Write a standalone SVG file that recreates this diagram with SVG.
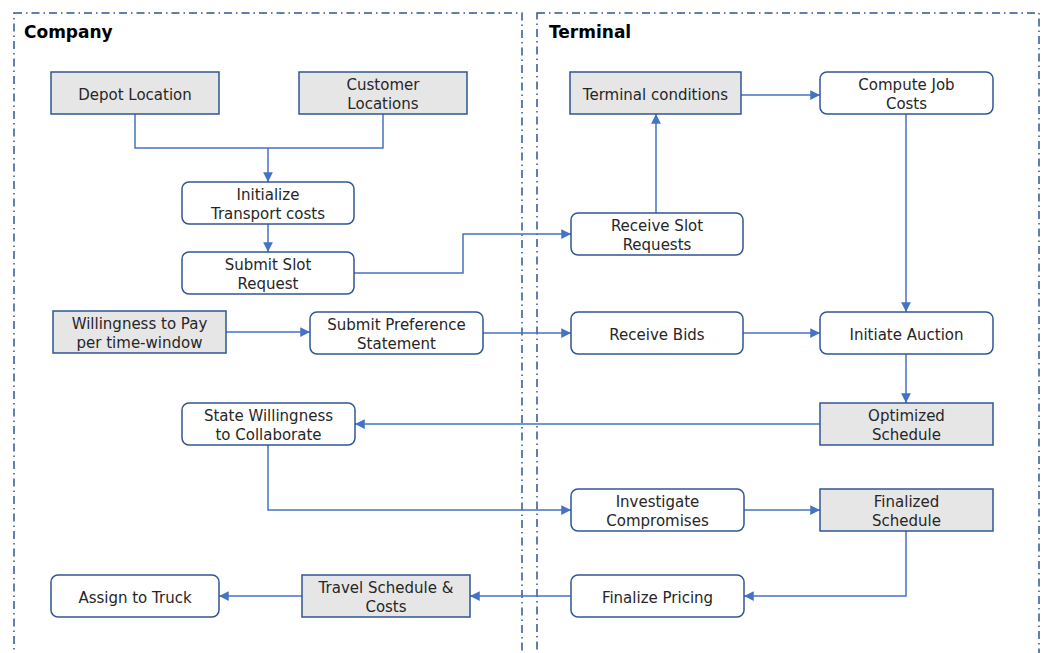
<svg xmlns="http://www.w3.org/2000/svg" width="1051" height="653" viewBox="0 0 1051 653">
<style>
.lane{fill:none;stroke:#2f5597;stroke-width:1.5;stroke-dasharray:8 4 1.5 4}
.title{font-family:"DejaVu Sans",sans-serif;font-weight:bold;font-size:17px;fill:#000}
.data{fill:#e7e6e6;stroke:#2f5597;stroke-width:1.5}
.proc{fill:#fff;stroke:#2f5597;stroke-width:1.5}
.t{font-family:"DejaVu Sans",sans-serif;font-size:15px;fill:#262626;text-anchor:middle}
.c{fill:none;stroke:#4472c4;stroke-width:1.5}
.ca{fill:none;stroke:#4472c4;stroke-width:1.5;marker-end:url(#ah)}
</style>
<defs>
<marker id="ah" viewBox="0 0 10 10" refX="10" refY="5" markerWidth="6.5" markerHeight="6.5" markerUnits="strokeWidth" orient="auto">
<path d="M0,0 L10,5 L0,10 z" fill="#4472c4"/>
</marker>
</defs>
<rect width="1051" height="653" fill="#fff"/>
<g id="lane-company">
<rect class="lane" x="14" y="13" width="508" height="700"/>
<text class="title" x="24" y="38">Company</text>
</g>
<g id="lane-terminal">
<rect class="lane" x="537" y="13" width="502" height="700"/>
<text class="title" x="549" y="38">Terminal</text>
</g>
<g id="connectors">
<path class="c" d="M135,114 V148 H383 V114"/>
<path class="ca" d="M268,148 V182"/>
<path class="ca" d="M268,224 V252"/>
<path class="ca" d="M354,273 H463 V234 H571"/>
<path class="ca" d="M656,213 V114"/>
<path class="ca" d="M741,95 H820"/>
<path class="ca" d="M906,114 V312"/>
<path class="ca" d="M226,332 H310"/>
<path class="ca" d="M483,333 H571"/>
<path class="ca" d="M743,333 H820"/>
<path class="ca" d="M906,354 V403"/>
<path class="ca" d="M820,424 H355"/>
<path class="ca" d="M268,445 V510 H571"/>
<path class="ca" d="M744,510 H820"/>
<path class="ca" d="M906,531 V596 H744"/>
<path class="ca" d="M571,596 H470"/>
<path class="ca" d="M302,596 H219"/>
</g>
<g id="depot-location">
<rect class="data" x="51" y="72" width="168" height="42"/>
<text class="t" x="135" y="99.5">Depot Location</text>
</g>
<g id="customer-locations">
<rect class="data" x="299" y="72" width="168" height="42"/>
<text class="t" x="383" y="90">Customer</text>
<text class="t" x="383" y="108.5">Locations</text>
</g>
<g id="initialize-transport-costs">
<rect class="proc" x="182" y="182" width="172" height="42" rx="7"/>
<text class="t" x="268" y="200">Initialize</text>
<text class="t" x="268" y="218.5">Transport costs</text>
</g>
<g id="submit-slot-request">
<rect class="proc" x="182" y="252" width="172" height="42" rx="7"/>
<text class="t" x="268" y="270">Submit Slot</text>
<text class="t" x="268" y="288.5">Request</text>
</g>
<g id="willingness-to-pay">
<rect class="data" x="53" y="311" width="173" height="42"/>
<text class="t" x="139.5" y="329">Willingness to Pay</text>
<text class="t" x="139.5" y="347.5">per time-window</text>
</g>
<g id="submit-preference-statement">
<rect class="proc" x="310" y="312" width="173" height="42" rx="7"/>
<text class="t" x="396.5" y="330">Submit Preference</text>
<text class="t" x="396.5" y="348.5">Statement</text>
</g>
<g id="state-willingness">
<rect class="proc" x="182" y="403" width="173" height="42" rx="7"/>
<text class="t" x="268.5" y="421">State Willingness</text>
<text class="t" x="268.5" y="439.5">to Collaborate</text>
</g>
<g id="assign-to-truck">
<rect class="proc" x="51" y="575" width="168" height="42" rx="7"/>
<text class="t" x="135" y="602.5">Assign to Truck</text>
</g>
<g id="travel-schedule-costs">
<rect class="data" x="302" y="575" width="168" height="42"/>
<text class="t" x="386" y="593">Travel Schedule &amp;</text>
<text class="t" x="386" y="611.5">Costs</text>
</g>
<g id="terminal-conditions">
<rect class="data" x="570" y="72" width="171" height="42"/>
<text class="t" x="655.5" y="99.5">Terminal conditions</text>
</g>
<g id="compute-job-costs">
<rect class="proc" x="820" y="72" width="173" height="42" rx="7"/>
<text class="t" x="906.5" y="90">Compute Job</text>
<text class="t" x="906.5" y="108.5">Costs</text>
</g>
<g id="receive-slot-requests">
<rect class="proc" x="571" y="213" width="172" height="42" rx="7"/>
<text class="t" x="657" y="231">Receive Slot</text>
<text class="t" x="657" y="249.5">Requests</text>
</g>
<g id="receive-bids">
<rect class="proc" x="571" y="312" width="172" height="42" rx="7"/>
<text class="t" x="657" y="339.5">Receive Bids</text>
</g>
<g id="initiate-auction">
<rect class="proc" x="820" y="312" width="173" height="42" rx="7"/>
<text class="t" x="906.5" y="339.5">Initiate Auction</text>
</g>
<g id="optimized-schedule">
<rect class="data" x="820" y="403" width="173" height="42"/>
<text class="t" x="906.5" y="421">Optimized</text>
<text class="t" x="906.5" y="439.5">Schedule</text>
</g>
<g id="investigate-compromises">
<rect class="proc" x="571" y="489" width="173" height="42" rx="7"/>
<text class="t" x="657.5" y="507">Investigate</text>
<text class="t" x="657.5" y="525.5">Compromises</text>
</g>
<g id="finalized-schedule">
<rect class="data" x="820" y="489" width="173" height="42"/>
<text class="t" x="906.5" y="507">Finalized</text>
<text class="t" x="906.5" y="525.5">Schedule</text>
</g>
<g id="finalize-pricing">
<rect class="proc" x="571" y="575" width="173" height="42" rx="7"/>
<text class="t" x="657.5" y="602.5">Finalize Pricing</text>
</g>
</svg>
